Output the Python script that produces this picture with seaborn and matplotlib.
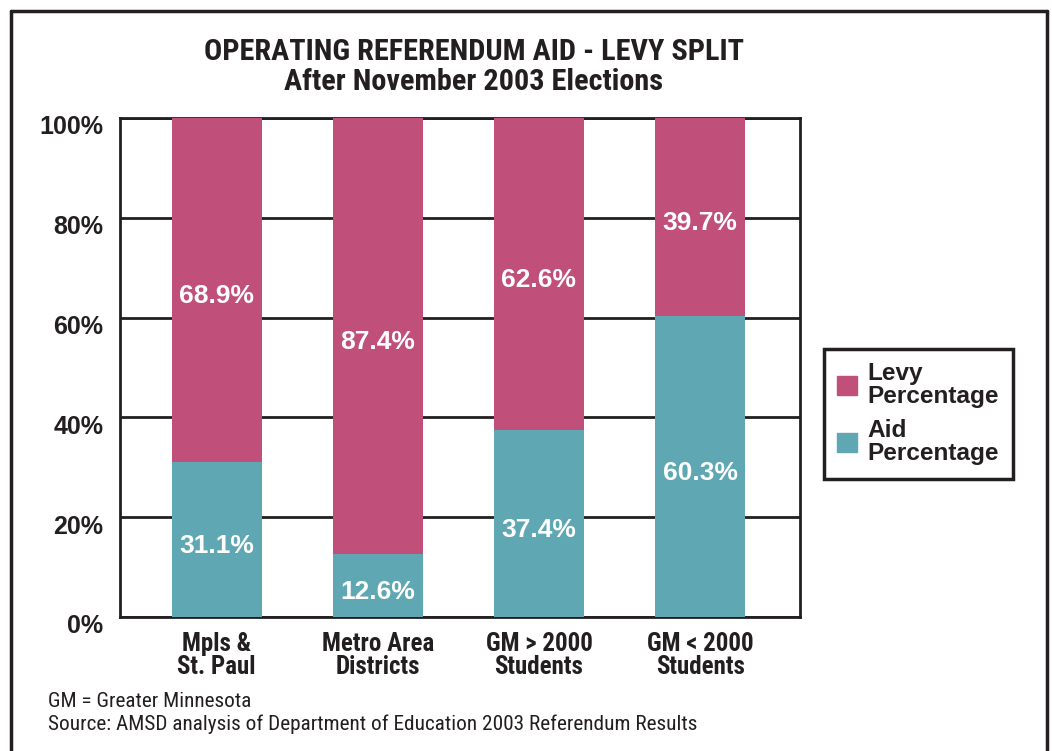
import matplotlib
matplotlib.use("Agg")
import matplotlib.pyplot as plt
import matplotlib.patches as mpatches
import matplotlib.transforms as mtransforms
from matplotlib.lines import Line2D
import seaborn as sns
import pandas as pd

categories = ["Mpls &\nSt. Paul", "Metro Area\nDistricts", "GM > 2000\nStudents", "GM < 2000\nStudents"]
aid = [31.1, 12.6, 37.4, 60.3]
levy = [68.9, 87.4, 62.6, 39.7]

levy_col = "#C0507A"
aid_col = "#5FA8B3"
ink = "#231F20"
narrow = ["Roboto Condensed", "Liberation Sans", "DejaVu Sans"]

sns.set_style("white")
plt.rcParams["font.family"] = ["Liberation Sans", "DejaVu Sans"]

df = pd.DataFrame({"cat": categories, "aid": aid, "levy": levy})
df["total"] = df.aid + df.levy

fig = plt.figure(figsize=(10.52, 7.51), dpi=100)
ax = fig.add_axes([0.1141, 0.1784, 0.6464, 0.6645])

sns.barplot(data=df, x="cat", y="total", color=levy_col, width=0.56, saturation=1,
            linewidth=0, ax=ax, zorder=3)
sns.barplot(data=df, x="cat", y="aid", color=aid_col, width=0.56, saturation=1,
            linewidth=0, ax=ax, zorder=3)

ax.set_xlim(-0.6, 3.62)
ax.set_ylim(0, 100)
ax.set_xlabel("")
ax.set_ylabel("")

# gridlines
ax.set_axisbelow(True)
ax.set_yticks(range(0, 101, 20))
ax.set_yticklabels([f"{v}%" for v in range(0, 101, 20)], fontsize=18, fontweight="bold",
                   color=ink)
ax.yaxis.grid(True, color=ink, linewidth=2)
ax.tick_params(axis="y", length=6, width=2, color=ink, direction="out", pad=6)
shift = mtransforms.ScaledTranslation(0, -5 / 72, fig.dpi_scale_trans)
for lab in ax.get_yticklabels():
    lab.set_transform(lab.get_transform() + shift)

ax.set_xticks(range(len(categories)))
ax.set_xticklabels(categories, fontsize=18, fontweight="bold", color=ink,
                   family=narrow, linespacing=0.95)
ax.tick_params(axis="x", length=0, pad=11)
ax.set_xticks([-0.6, 0.51, 1.54, 2.52, 3.62], minor=True)
ax.tick_params(axis="x", which="minor", length=8, width=2, color=ink, direction="out")

for s in ax.spines.values():
    s.set_visible(True)
    s.set_color(ink)
    s.set_linewidth(2)

# value labels
lab_tr = mtransforms.offset_copy(ax.transData, fig=fig, y=-4.5, units="points")
for i, (a, l) in enumerate(zip(aid, levy)):
    ax.text(i, a / 2, f"{a}%", ha="center", va="center", color="white",
            fontsize=19, fontweight="bold", zorder=5, transform=lab_tr)
    ax.text(i, a + l / 2, f"{l}%", ha="center", va="center", color="white",
            fontsize=19, fontweight="bold", zorder=5, transform=lab_tr)

fig.text(0.4506, 0.931, "OPERATING REFERENDUM AID - LEVY SPLIT", ha="center", va="center",
         fontsize=21.8, fontweight="bold", color=ink, family=narrow)
fig.text(0.4506, 0.891, "After November 2003 Elections", ha="center", va="center",
         fontsize=21.8, fontweight="bold", color=ink, family=narrow)

handles = [mpatches.Patch(color=levy_col, label="Levy\nPercentage"),
           mpatches.Patch(color=aid_col, label="Aid\nPercentage")]
leg = fig.legend(handles=handles, loc="center left", bbox_to_anchor=(0.783, 0.449),
                 borderaxespad=0, frameon=True, fancybox=False, edgecolor=ink, framealpha=1,
                 handlelength=0.8, handleheight=0.8, handletextpad=0.45, labelspacing=0.45,
                 borderpad=0.55, prop={"size": 17.6, "weight": "bold"})
leg.get_frame().set_linewidth(2.5)
for t in leg.get_texts():
    t.set_color(ink)
    t.set_linespacing(1.0)

fig.text(0.0456, 0.066, "GM = Greater Minnesota", ha="left", va="center",
         fontsize=15.3, color=ink, family=narrow)
fig.text(0.0456, 0.036, "Source: AMSD analysis of Department of Education 2003 Referendum Results",
         ha="left", va="center", fontsize=15.3, color=ink, family=narrow)

# outer frame
for xs, ys in [([0.0105, 0.0105], [0, 0.986]), ([0.0105, 0.995], [0.986, 0.986]),
               ([0.995, 0.995], [0.986, 0])]:
    fig.add_artist(Line2D(xs, ys, color=ink, linewidth=2.5, transform=fig.transFigure))

fig.savefig("out.png", dpi=100)
